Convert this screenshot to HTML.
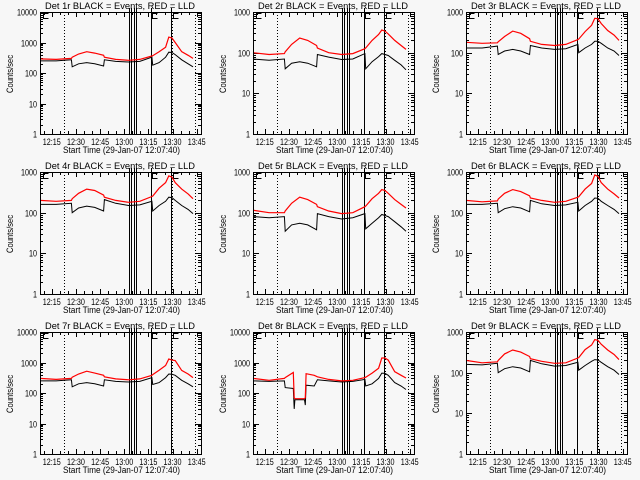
<!DOCTYPE html>
<html><head><meta charset="utf-8"><style>
body{margin:0;background:#f7f7f7}
svg{display:block}
text{font-family:"Liberation Sans",sans-serif;font-size:9px;fill:#000}
</style></head><body>
<svg id="chart" width="640" height="480" viewBox="0 0 640 480"></svg>
<script>
// shared time axis (minutes since 12:07:40)
const times = [0,10,19.5,20,24,29,34,39.5,40,47,55,62,69.5,70,74,78,80,82,84,88,92,95];
const p8Times = [0,10,19.5,20,25,25.6,26,32,32.5,33,38,40,47,55,62,69.5,70,74,78,80,82,84,88,92,95];
const p1Black = [250,250,270,160,200,220,200,170,270,240,230,240,330,180,220,330,480,470,400,270,200,160];
const p1Red   = [290,280,300,330,420,500,450,380,330,280,260,280,360,370,500,700,1500,1400,1000,500,380,300];
const p2Black = [70,65,70,40,55,60,55,45,90,78,68,70,95,40,60,80,95,90,85,65,50,38];
const p2Red   = [100,90,95,105,160,230,200,150,130,100,90,95,125,130,200,280,360,340,290,200,150,120];
const p3Black = [130,130,145,90,110,120,110,90,150,130,120,125,160,100,130,160,190,190,170,130,110,85];
const p3Red   = [180,170,175,185,250,340,300,220,190,160,150,160,210,215,330,470,700,680,520,350,270,200];
const p4Black = [160,160,170,100,130,145,135,110,210,170,150,155,190,110,150,190,240,235,200,150,120,95];
const p4Red   = [200,190,200,220,300,380,350,270,240,200,180,190,250,255,400,550,800,750,550,380,290,220];
const p5Black = [80,75,80,35,50,55,50,38,95,80,70,75,95,40,55,75,90,85,80,60,45,35];
const p5Red   = [115,100,100,110,170,240,210,160,140,110,95,100,140,145,220,300,370,350,300,210,160,130];
const p6Black = [160,160,170,100,125,140,130,105,200,165,150,155,180,110,150,190,230,225,190,150,120,95];
const p6Red   = [200,185,195,215,300,370,330,260,230,200,180,190,240,245,380,520,850,780,550,380,290,230];
const p7Black = [250,250,270,160,200,220,200,170,270,240,230,240,320,190,220,320,420,410,380,260,200,160];
const p7Red   = [300,280,300,330,420,520,450,380,340,290,270,290,380,400,560,800,1300,1200,1150,550,420,320];
const p8Black = [250,240,250,150,140,30,60,60,40,180,170,270,250,230,240,280,170,200,300,450,440,380,220,170,130];
const p8Red   = [300,260,300,320,470,70,65,65,70,430,380,340,280,250,260,320,330,450,650,1400,1400,1200,500,380,310];
const p9Black = [160,155,170,100,125,140,130,105,200,165,145,150,180,115,150,190,210,205,180,140,115,90];
const p9Red   = [200,175,185,200,290,360,320,250,220,190,170,175,230,235,370,480,650,620,500,360,280,210];
const panelTopDecade = [4,3,3,3,3,3,4,4,3];
const tickLabels = ["12:15","12:30","12:45","13:00","13:15","13:30","13:45"];
const tickTimes = [7.33,22.33,37.33,52.33,67.33,82.33,97.33];
const solidLines = [55.3,56.5,58.4,59.6,68.8,81.4];
const dottedLines = [14.9,81.8,96.3];

const panels = [
 {t:times,b:p1Black,r:p1Red},{t:times,b:p2Black,r:p2Red},{t:times,b:p3Black,r:p3Red},
 {t:times,b:p4Black,r:p4Red},{t:times,b:p5Black,r:p5Red},{t:times,b:p6Black,r:p6Red},
 {t:times,b:p7Black,r:p7Red},{t:p8Times,b:p8Black,r:p8Red},{t:times,b:p9Black,r:p9Red}];

const NS="http://www.w3.org/2000/svg";
const svg=document.getElementById('chart');
function mk(tag,attrs,parent){const e=document.createElementNS(NS,tag);for(const k in attrs)e.setAttribute(k,attrs[k]);parent.appendChild(e);return e;}
const X0=40,X1=201,Y0=12,Y1=134,PXM=1.61;
panels.forEach((p,i)=>{
  const ox=[0,213,426][i%3], oy=[0,160,320][Math.floor(i/3)];
  const g=mk('g',{transform:`translate(${ox},${oy})`},svg);
  
  
  const top=panelTopDecade[i];
  const xs=t=>X0+t*PXM;
  const ys=v=>Y1-(Math.log10(v))/top*(Y1-Y0);
  const tt=mk('text',{x:45,y:9,textLength:150,lengthAdjust:'spacingAndGlyphs','font-size':'10'},g);
  tt.textContent=`Det ${i+1}r BLACK = Events, RED = LLD`;
  
  
  const yl=mk('text',{x:-93,y:13,textLength:38,lengthAdjust:'spacingAndGlyphs','font-size':'8',transform:'rotate(-90)'},g);
  yl.textContent='Counts/sec';
  
  
  const xl=mk('text',{x:63,y:153,textLength:117,lengthAdjust:'spacingAndGlyphs'},g);
  xl.textContent='Start Time (29-Jan-07 12:07:40)';
  
  
  for(let d=0;d<=top;d++){
    const y=Math.round(ys(Math.pow(10,d)))+0.5;
    mk('line',{x1:X0,x2:X0+6,y1:y,y2:y,stroke:'#000'},g);
    mk('line',{x1:X1-6,x2:X1,y1:y,y2:y,stroke:'#000'},g);
    const s=String(Math.pow(10,d));
    const lb=mk('text',{x:37-s.length*4,y:y+3,textLength:s.length*4,lengthAdjust:'spacingAndGlyphs'},g);
    lb.textContent=s;
    
    
    if(d<top)for(let m=2;m<10;m++){const ym=Math.round(ys(m*Math.pow(10,d)))+0.5;
      mk('line',{x1:X0,x2:X0+3,y1:ym,y2:ym,stroke:'#000'},g);
      mk('line',{x1:X1-3,x2:X1,y1:ym,y2:ym,stroke:'#000'},g);}
  }
  for(let t=2.33;t<100;t+=5){const x=Math.round(xs(t))+0.5;const major=tickTimes.some(v=>Math.abs(v-t)<0.1);const L=major?5:3;
    mk('line',{x1:x,x2:x,y1:Y1,y2:Y1-L,stroke:'#000'},g);mk('line',{x1:x,x2:x,y1:Y0,y2:Y0+L,stroke:'#000'},g);}
  tickTimes.forEach((t,k)=>{const lb=mk('text',{x:xs(t)-9,y:145,textLength:18,lengthAdjust:'spacingAndGlyphs'},g);lb.textContent=tickLabels[k];
    
    });
  solidLines.forEach(t=>{const x=Math.round(xs(t))+0.5;mk('line',{x1:x,x2:x,y1:Y0-4,y2:Y1,stroke:'#000','shape-rendering':'crispEdges'},g);});
  dottedLines.forEach(t=>{const x=Math.round(xs(t))+0.5;mk('line',{x1:x,x2:x,y1:Y0,y2:Y1,stroke:'#000','stroke-dasharray':'1,2','shape-rendering':'crispEdges'},g);});
  [2,69.5,82.5].forEach(t=>{const x=Math.round(xs(t))+0.5;mk('path',{d:`M${x+5},${Y0+1.5}H${x}V${Y0+6.5}H${x+5}`,fill:'none',stroke:'#000','shape-rendering':'crispEdges'},g);});
  const pts=(arr)=>arr.map((v,k)=>xs(p.t[k]).toFixed(1)+','+ys(v).toFixed(1)).join(' ');
  const bl=mk('polyline',{points:pts(p.b),fill:'none',stroke:'#000','stroke-width':1},g);
  
  
  const rl=mk('polyline',{points:pts(p.r),fill:'none',stroke:'#f00','stroke-width':1.2},g);
  
  
  const bx=mk('rect',{x:X0+0.5,y:Y0+0.5,width:X1-X0,height:Y1-Y0,fill:'none',stroke:'#000','shape-rendering':'crispEdges'},g);
  
  
});
</script>
</body></html>
